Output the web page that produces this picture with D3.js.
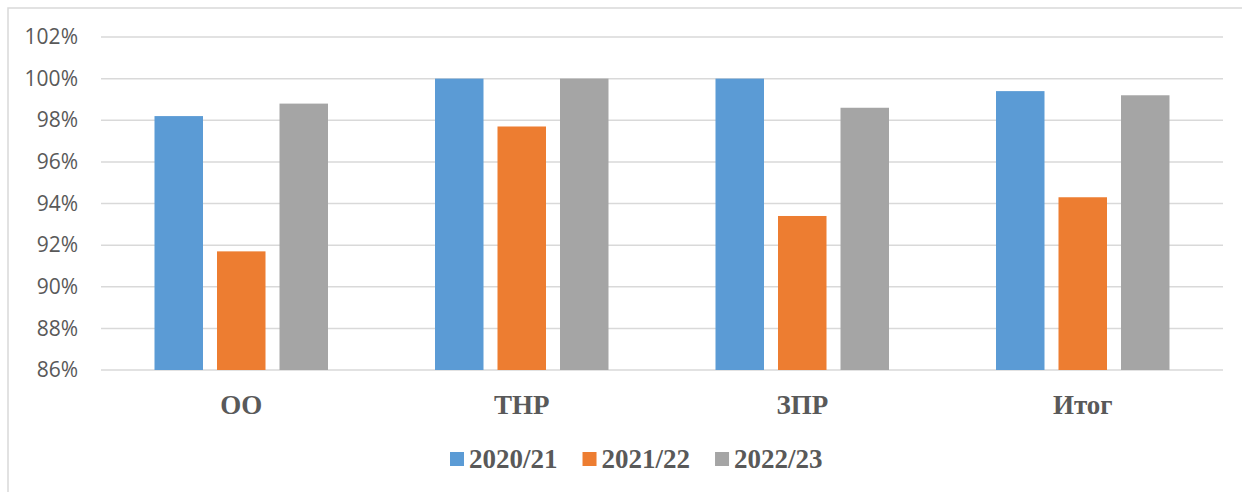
<!DOCTYPE html>
<html>
<head>
<meta charset="utf-8">
<script src="https://cdn.jsdelivr.net/npm/d3@7"></script>
<style>
  body { margin: 0; background: #fff; }
  svg { display: block; }
</style>
</head>
<body>
<div id="chart"></div>
<script>
  // data
  var categories = ["ОО", "ТНР", "ЗПР", "Итог"];
  var seriesNames = ["2020/21", "2021/22", "2022/23"];
  var values2020 = [0.982, 1.000, 1.000, 0.994];
  var values2021 = [0.917, 0.977, 0.934, 0.943];
  var values2022 = [0.988, 1.000, 0.986, 0.992];
  var yTicks = [0.86, 0.88, 0.90, 0.92, 0.94, 0.96, 0.98, 1.00, 1.02];
  var colors = ["#5B9BD5", "#ED7D31", "#A5A5A5"];

  var seriesValues = [values2020, values2021, values2022];
  var data = categories.map(function(c, i) {
    return {
      group: c,
      values: seriesNames.map(function(s, j) { return {series: s, value: seriesValues[j][i]}; })
    };
  });

  var W = 1242, H = 492;
  var margin = {top: 37, right: 19, bottom: 122, left: 101},
      width = W - margin.left - margin.right,
      height = H - margin.top - margin.bottom;

  var root = d3.select("#chart")
    .append("svg")
      .attr("width", W)
      .attr("height", H);

  // chart frame (only left and top edges are inside the picture)
  root.append("rect")
    .attr("x", 8).attr("y", 8)
    .attr("width", W + 20).attr("height", H + 20)
    .attr("fill", "none")
    .attr("stroke", "#D9D9D9")
    .attr("stroke-width", 1.5);

  var svg = root.append("g")
    .attr("transform", "translate(" + margin.left + "," + margin.top + ")");

  var x0 = d3.scaleBand()
    .domain(categories)
    .range([0, width])
    .padding(0);

  var x1 = d3.scaleBand()
    .domain(seriesNames)
    .range([0, x0.bandwidth()])
    .paddingInner(0.224)
    .paddingOuter(0.856);

  var y = d3.scaleLinear()
    .domain([0.86, 1.02])
    .range([height, 0]);

  // gridlines
  svg.append("g")
    .selectAll("line")
    .data(yTicks)
    .enter()
    .append("line")
      .attr("x1", 0)
      .attr("x2", width)
      .attr("y1", function(d) { return y(d); })
      .attr("y2", function(d) { return y(d); })
      .attr("stroke", "#D9D9D9")
      .attr("stroke-width", 1.5);

  // y axis labels
  var yAxis = svg.append("g")
    .attr("transform", "translate(-23,0)")
    .call(d3.axisLeft(y).tickValues(yTicks).tickFormat(d3.format(".0%")).tickSize(0).tickPadding(0));
  yAxis.select(".domain").remove();
  yAxis.selectAll("text")
    .attr("fill", "#595959")
    .style("font-family", "'Open Sans', sans-serif")
    .style("font-size", "21px");

  // bars
  var groups = svg.selectAll(".grp")
    .data(data)
    .enter()
    .append("g")
      .attr("class", "grp")
      .attr("transform", function(d) { return "translate(" + x0(d.group) + ",0)"; });

  groups.selectAll("rect")
    .data(function(d) { return d.values; })
    .enter()
    .append("rect")
      .attr("x", function(d) { return x1(d.series); })
      .attr("y", function(d) { return y(d.value); })
      .attr("width", x1.bandwidth())
      .attr("height", function(d) { return height - y(d.value); })
      .attr("fill", function(d, i) { return colors[i]; });

  // category labels
  var xAxis = svg.append("g")
    .attr("transform", "translate(0," + height + ")")
    .call(d3.axisBottom(x0).tickSize(0).tickPadding(0));
  xAxis.select(".domain").remove();
  xAxis.selectAll("text")
    .attr("dy", null)
    .attr("y", 44)
    .attr("fill", "#595959")
    .style("font-family", "'Liberation Serif', 'Times New Roman', serif")
    .style("font-weight", "bold")
    .style("font-size", "27px");

  // legend
  var legend = root.append("g").attr("transform", "translate(450,0)");
  var lx = 0;
  seriesNames.forEach(function(s, i) {
    var item = legend.append("g").attr("transform", "translate(" + lx + ",0)");
    item.append("rect")
      .attr("x", 0).attr("y", 452)
      .attr("width", 14).attr("height", 14)
      .attr("fill", colors[i]);
    var t = item.append("text")
      .attr("x", 19).attr("y", 468)
      .attr("fill", "#595959")
      .style("font-family", "'Liberation Serif', 'Times New Roman', serif")
      .style("font-weight", "bold")
      .style("font-size", "27px")
      .text(s);
    lx += 19 + t.node().getComputedTextLength() + 25;
  });
</script>
</body>
</html>
